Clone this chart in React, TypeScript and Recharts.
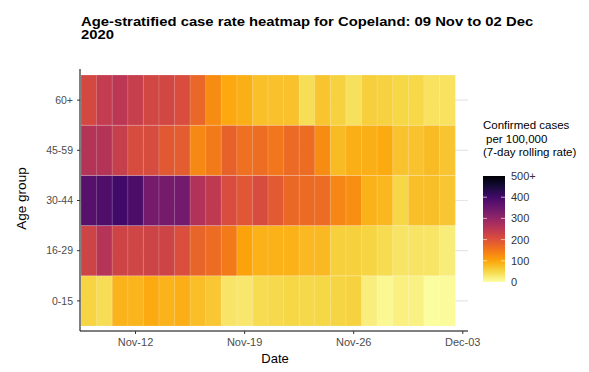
import { Bar, BarChart, CartesianGrid, Cell, XAxis, YAxis } from "recharts";

const DATES = [
  "2020-11-09", "2020-11-10", "2020-11-11", "2020-11-12", "2020-11-13", "2020-11-14",
  "2020-11-15", "2020-11-16", "2020-11-17", "2020-11-18", "2020-11-19", "2020-11-20",
  "2020-11-21", "2020-11-22", "2020-11-23", "2020-11-24", "2020-11-25", "2020-11-26",
  "2020-11-27", "2020-11-28", "2020-11-29", "2020-11-30", "2020-12-01", "2020-12-02",
];

const AGE_GROUPS = ["0-15", "16-29", "30-44", "45-59", "60+"];

// confirmed cases per 100,000, 7-day rolling rate
const RATE_0_15 = [53, 42, 86, 85, 95, 86, 91, 75, 66, 32, 30, 44, 47, 50, 48, 50, 52, 55, 21, 10, 19, 17, 3, 5];
const RATE_16_29 = [225, 258, 225, 222, 225, 225, 205, 175, 166, 148, 102, 88, 88, 88, 80, 80, 57, 57, 53, 44, 34, 34, 33, 23];
const RATE_30_44 = [375, 385, 400, 388, 335, 335, 340, 262, 245, 208, 192, 210, 188, 170, 167, 165, 135, 125, 88, 82, 50, 74, 74, 67];
const RATE_45_59 = [260, 260, 235, 210, 210, 190, 185, 132, 148, 178, 160, 163, 153, 168, 165, 128, 78, 90, 90, 95, 70, 70, 78, 68];
const RATE_60_PLUS = [215, 240, 250, 235, 220, 220, 208, 172, 128, 97, 90, 73, 72, 72, 41, 68, 55, 39, 59, 55, 50, 49, 36, 36];

const RATES_BY_GROUP = [RATE_0_15, RATE_16_29, RATE_30_44, RATE_45_59, RATE_60_PLUS];

const X_TICKS = ["2020-11-12", "2020-11-19", "2020-11-26", "2020-12-03"];
const LEGEND_TICKS = [0, 100, 200, 300, 400, 500];
const RATE_CAP = 500;

const MONTHS = ["Jan", "Feb", "Mar", "Apr", "May", "Jun", "Jul", "Aug", "Sep", "Oct", "Nov", "Dec"];

// inferno palette, dark to light
const INFERNO = [
  "#000004", "#160b39", "#420a68", "#6a176e", "#932667", "#bc3754",
  "#dd513a", "#f37819", "#fca50a", "#f6d746", "#fcffa4",
];

const toDay = (iso: string) => {
  const [y, m, d] = iso.split("-").map(Number);
  return Date.UTC(y, m - 1, d) / 86400000;
};

const formatDay = (day: number) => {
  const dt = new Date(Math.round(day) * 86400000);
  return `${MONTHS[dt.getUTCMonth()]}-${String(dt.getUTCDate()).padStart(2, "0")}`;
};

const hexToRgb = (hex: string) => [1, 3, 5].map((i) => parseInt(hex.slice(i, i + 2), 16));

const rateColour = (rate: number) => {
  const t = 1 - Math.min(Math.max(rate, 0), RATE_CAP) / RATE_CAP;
  const pos = t * (INFERNO.length - 1);
  const i = Math.min(Math.floor(pos), INFERNO.length - 2);
  const f = pos - i;
  const a = hexToRgb(INFERNO[i]);
  const b = hexToRgb(INFERNO[i + 1]);
  const c = a.map((v, k) => Math.round(v + (b[k] - v) * f));
  return `rgb(${c[0]},${c[1]},${c[2]})`;
};

const rows = DATES.map((date, i) => {
  const row: Record<string, number | string> = { date, day: toDay(date) };
  AGE_GROUPS.forEach((group, g) => {
    row[group] = RATES_BY_GROUP[g][i];
  });
  return row;
});

const firstDay = toDay(DATES[0]);
const lastDay = toDay(DATES[DATES.length - 1]);
const groupCentres = AGE_GROUPS.map((_, i) => i + 0.5);

const BAR_TOP = 176;
const BAR_BOTTOM = 282;
const legendY = (v: number) => BAR_BOTTOM - (v / RATE_CAP) * (BAR_BOTTOM - BAR_TOP);

const Legend = () => (
  <svg width={589} height={372} style={{ position: "absolute", left: 0, top: 0, pointerEvents: "none" }}>
    <defs>
      <linearGradient id="inferno" x1="0" y1="1" x2="0" y2="0">
        {INFERNO.slice().reverse().map((c, i) => (
          <stop key={c} offset={i / (INFERNO.length - 1)} stopColor={c} />
        ))}
      </linearGradient>
    </defs>
    <text x={21.5} y={198.5} transform="rotate(-90 21.5 198.5)" textAnchor="middle" dominantBaseline="central" fontSize={13.5} fill="#000">
      Age group
    </text>
    <text x={275} y={362.5} textAnchor="middle" fontSize={13} fill="#000">Date</text>
    <g fontSize={11.5} fill="#000">
      <text x={483} y={129}>Confirmed cases</text>
      <text x={486} y={142.5}>per 100,000</text>
      <text x={483} y={156}>(7-day rolling rate)</text>
    </g>
    <rect x={483} y={BAR_TOP} width={22} height={BAR_BOTTOM - BAR_TOP} fill="url(#inferno)" />
    {LEGEND_TICKS.slice(1, -1).map((v) => (
      <g key={v} stroke="#fff" strokeWidth={0.8} strokeOpacity={0.8}>
        <line x1={483} x2={487} y1={legendY(v)} y2={legendY(v)} />
        <line x1={501} x2={505} y1={legendY(v)} y2={legendY(v)} />
      </g>
    ))}
    {LEGEND_TICKS.map((v) => (
      <text key={v} x={511} y={legendY(v)} dominantBaseline="central" fontSize={11} fill="#333">
        {v === RATE_CAP ? `${v}+` : v}
      </text>
    ))}
  </svg>
);

export default function App() {
  return (
    <div
      style={{
        position: "absolute",
        left: 0,
        top: 0,
        width: 589,
        height: 372,
        background: "#fff",
        fontFamily: "'Liberation Sans', Arial, sans-serif",
      }}
    >
      <div
        style={{
          position: "absolute",
          left: 81,
          top: 16,
          width: 410,
          fontSize: 13,
          lineHeight: "12.6px",
          fontWeight: "bold",
          color: "#000",
          transform: "scaleX(1.14)",
          transformOrigin: "left top",
        }}
      >
        Age-stratified case rate heatmap for Copeland: 09 Nov to 02 Dec 2020
      </div>
      <BarChart
        width={589}
        height={372}
        data={rows}
        margin={{ top: 69, right: 121, bottom: 0, left: 0 }}
        barCategoryGap={0}
        barGap={0}
      >
        <CartesianGrid vertical={false} horizontalValues={groupCentres} stroke="#e6e6e6" strokeWidth={1.2} />
        <XAxis
          dataKey="day"
          type="number"
          domain={[firstDay - 0.564, lastDay + 1.335]}
          allowDataOverflow
          ticks={X_TICKS.map(toDay)}
          interval={0}
          tickFormatter={formatDay}
          height={41}
          tickSize={3}
          tickMargin={4}
          tick={{ fontSize: 11, fill: "#4d4d4d" }}
          tickLine={{ stroke: "#333" }}
          axisLine={{ stroke: "#000" }}
        />
        <YAxis
          type="number"
          domain={[-0.1, 5.12]}
          allowDataOverflow
          ticks={groupCentres}
          interval={0}
          tickFormatter={(v: number) => AGE_GROUPS[Math.floor(v)]}
          width={80}
          tickSize={3}
          tickMargin={4}
          tick={{ fontSize: 10.5, fill: "#4d4d4d" }}
          tickLine={{ stroke: "#333" }}
          axisLine={{ stroke: "#000" }}
        />
        {AGE_GROUPS.map((group) => (
          <Bar key={group} dataKey={() => 1} stackId="tiles" isAnimationActive={false}>
            {rows.map((row) => (
              <Cell
                key={`${group}-${row.date}`}
                fill={rateColour(row[group] as number)}
                stroke="#ffffff"
                strokeOpacity={0.3}
                strokeWidth={0.6}
              />
            ))}
          </Bar>
        ))}
      </BarChart>
      <Legend />
    </div>
  );
}
